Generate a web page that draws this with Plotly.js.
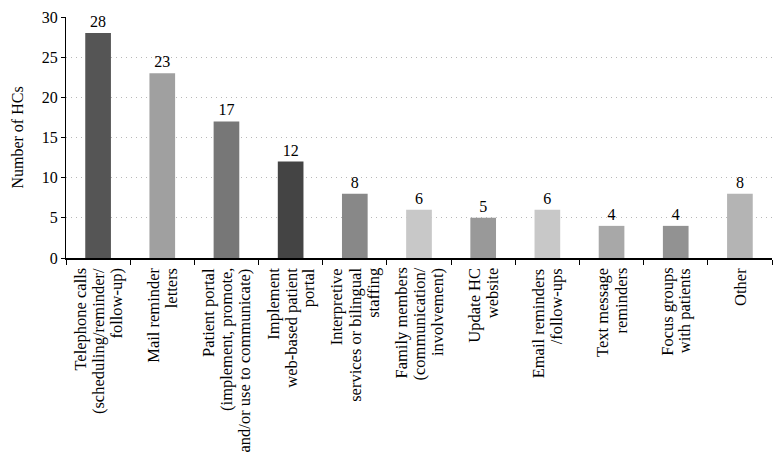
<!DOCTYPE html>
<html>
<head>
<meta charset="utf-8">
<script src="https://cdn.plot.ly/plotly-3.0.1.min.js"></script>
<style>html,body{margin:0;padding:0;background:#fff;}#chart{width:780px;height:469px;}</style>
</head>
<body>
<div id="chart"></div>
<script>
const categories = [
  "Telephone calls<br>(scheduling/reminder/<br>follow-up)",
  "Mail reminder<br>letters",
  "Patient portal<br>(implement, promote,<br>and/or use to communicate)",
  "Implement<br>web-based patient<br>portal",
  "Interpretive<br>services or bilingual<br>staffing",
  "Family members<br>(communication/<br>involvement)",
  "Update HC<br>website",
  "Email reminders<br>/follow-ups",
  "Text message<br>reminders",
  "Focus groups<br>with patients",
  "Other"
];
const values = [28, 23, 17, 12, 8, 6, 5, 6, 4, 4, 8];
const barColors = ["#555555", "#a0a0a0", "#777777", "#444444", "#888888", "#c8c8c8", "#999999", "#c8c8c8", "#a8a8a8", "#929292", "#b4b4b4"];
const yTicks = [0, 5, 10, 15, 20, 25, 30];

const font = "'Liberation Serif', 'Times New Roman', serif";
const lineGap = 18;

// category tick labels as rotated annotations, one per line, for tighter line spacing
const labelAnnotations = [];
categories.forEach(function (cat, i) {
  const lines = cat.split("<br>");
  const n = lines.length;
  lines.forEach(function (line, j) {
    labelAnnotations.push({
      x: cat, xref: "x", y: 0, yref: "paper",
      text: line, showarrow: false, textangle: -90,
      xanchor: "center", yanchor: "top",
      xshift: (j - (n - 1) / 2) * lineGap, yshift: -8,
      font: {family: font, size: 16.5, color: "#000"}
    });
  });
});

Plotly.newPlot("chart", [{
  type: "bar",
  x: categories,
  y: values,
  text: values.map(String),
  textposition: "outside",
  cliponaxis: false,
  textfont: {family: font, size: 16, color: "#000"},
  marker: {color: barColors},
  hoverinfo: "none"
}], {
  width: 780, height: 469,
  margin: {l: 66, r: 8, t: 17, b: 211},
  paper_bgcolor: "#fff", plot_bgcolor: "#fff",
  bargap: 0.6,
  showlegend: false,
  font: {family: font, size: 16, color: "#000"},
  annotations: labelAnnotations,
  xaxis: {
    type: "category",
    tickson: "boundaries",
    ticks: "outside", ticklen: 5, tickcolor: "#000",
    showline: true, linecolor: "#000", linewidth: 1.5,
    showgrid: false,
    showticklabels: false,
    automargin: false
  },
  yaxis: {
    range: [0, 30],
    tickvals: yTicks,
    ticks: "outside", ticklen: 4, tickcolor: "#000",
    showline: true, linecolor: "#000", linewidth: 1,
    showgrid: true, gridcolor: "#b8b8b8", griddash: "1px,4px", gridwidth: 1,
    zeroline: false,
    tickfont: {family: font, size: 16, color: "#000"},
    title: {text: "Number of HCs", font: {family: font, size: 16, color: "#000"}, standoff: 14},
    automargin: false
  }
}, {displayModeBar: false, staticPlot: true});
</script>
</body>
</html>
